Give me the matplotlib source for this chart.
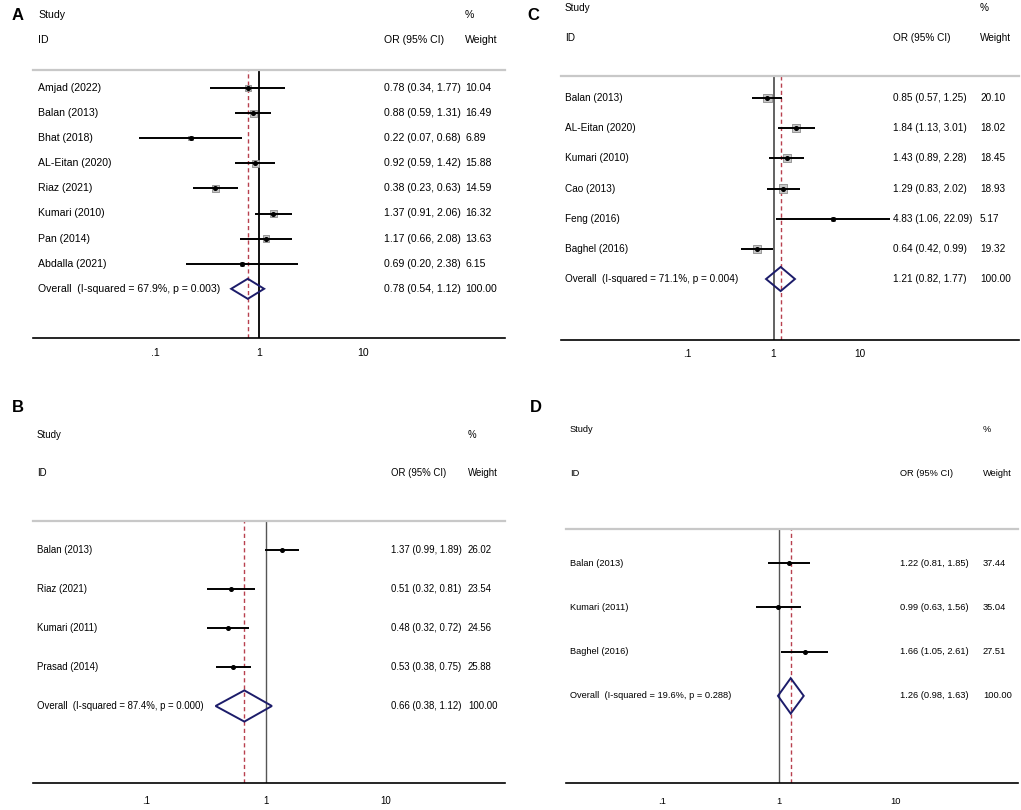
import numpy as np
import matplotlib
matplotlib.use("Agg")
import matplotlib.pyplot as plt
from matplotlib.patches import Polygon

plt.rcParams['font.family'] = ['Liberation Sans', 'DejaVu Sans']

# ---------------- data ----------------
A_studies = ["Amjad (2022)", "Balan (2013)", "Bhat (2018)", "AL-Eitan (2020)", "Riaz (2021)",
             "Kumari (2010)", "Pan (2014)", "Abdalla (2021)"]
A_or = [0.78, 0.88, 0.22, 0.92, 0.38, 1.37, 1.17, 0.69]
A_lo = [0.34, 0.59, 0.07, 0.59, 0.23, 0.91, 0.66, 0.20]
A_hi = [1.77, 1.31, 0.68, 1.42, 0.63, 2.06, 2.08, 2.38]
A_w = [10.04, 16.49, 6.89, 15.88, 14.59, 16.32, 13.63, 6.15]
A_overall = [0.78, 0.54, 1.12]
A_i2, A_p = 67.9, 0.003

B_studies = ["Balan (2013)", "Riaz (2021)", "Kumari (2011)", "Prasad (2014)"]
B_or = [1.37, 0.51, 0.48, 0.53]
B_lo = [0.99, 0.32, 0.32, 0.38]
B_hi = [1.89, 0.81, 0.72, 0.75]
B_w = [26.02, 23.54, 24.56, 25.88]
B_overall = [0.66, 0.38, 1.12]
B_i2, B_p = 87.4, 0.000

C_studies = ["Balan (2013)", "AL-Eitan (2020)", "Kumari (2010)", "Cao (2013)", "Feng (2016)", "Baghel (2016)"]
C_or = [0.85, 1.84, 1.43, 1.29, 4.83, 0.64]
C_lo = [0.57, 1.13, 0.89, 0.83, 1.06, 0.42]
C_hi = [1.25, 3.01, 2.28, 2.02, 22.09, 0.99]
C_w = [20.10, 18.02, 18.45, 18.93, 5.17, 19.32]
C_overall = [1.21, 0.82, 1.77]
C_i2, C_p = 71.1, 0.004

D_studies = ["Balan (2013)", "Kumari (2011)", "Baghel (2016)"]
D_or = [1.22, 0.99, 1.66]
D_lo = [0.81, 0.63, 1.05]
D_hi = [1.85, 1.56, 2.61]
D_w = [37.44, 35.04, 27.51]
D_overall = [1.26, 0.98, 1.63]
D_i2, D_p = 19.6, 0.288

tick_vals = [0.1, 1, 10]
tick_labels = [".1", "1", "10"]

# ---------------- layout (pixels) ----------------
W, H = 1021, 810
fig = plt.figure(figsize=(W / 100, H / 100), dpi=100)
fig.patch.set_facecolor("white")

FS = dict(A=7.6, B=6.9, C=7.2, D=6.7)

panels = [
    dict(letter="A", studies=A_studies, orv=A_or, lo=A_lo, hi=A_hi, w=A_w, ov=A_overall, i2=A_i2, p=A_p,
         letter_xy=(12, 16), col_x=(38, 384, 465), study_y=15, id_y=40,
         x0=33, x1=505, line_y=70, axis_y=338, first=88, spacing=25.1, px1=259, dec=104,
         sq=1.75, refcol="black", reflw=1.3, pad=7.0),
    dict(letter="B", studies=B_studies, orv=B_or, lo=B_lo, hi=B_hi, w=B_w, ov=B_overall, i2=B_i2, p=B_p,
         letter_xy=(12, 407), col_x=(37, 391, 468), study_y=435, id_y=473,
         x0=33, x1=505, line_y=521, axis_y=783, first=550, spacing=39.0, px1=266, dec=120,
         sq=0.0, refcol="#555555", reflw=1.0, pad=9.5),
    dict(letter="C", studies=C_studies, orv=C_or, lo=C_lo, hi=C_hi, w=C_w, ov=C_overall, i2=C_i2, p=C_p,
         letter_xy=(527, 16), col_x=(565, 893, 980), study_y=8, id_y=38,
         x0=561, x1=1019, line_y=76, axis_y=340, first=98, spacing=30.17, px1=773.5, dec=86.5,
         sq=1.9, refcol="#555555", reflw=1.3, pad=6.5),
    dict(letter="D", studies=D_studies, orv=D_or, lo=D_lo, hi=D_hi, w=D_w, ov=D_overall, i2=D_i2, p=D_p,
         letter_xy=(530, 407), col_x=(570, 900, 983), study_y=430, id_y=474,
         x0=566, x1=1018, line_y=529, axis_y=783, first=563, spacing=44.3, px1=779, dec=116.5,
         sq=0.0, refcol="#555555", reflw=1.0, pad=10.0),
]


def ftxt(px, py, s, **kw):
    fig.text(px / W, 1 - py / H, s, va="center", ha="left", **kw)


for P in panels:
    fs = FS[P["letter"]]
    cx0, cx1, cx2 = P["col_x"]
    # headers
    ftxt(P["letter_xy"][0], P["letter_xy"][1], P["letter"], fontsize=12, fontweight="bold")
    ftxt(cx0, P["study_y"], "Study", fontsize=fs)
    ftxt(cx2, P["study_y"], "%", fontsize=fs)
    ftxt(cx0, P["id_y"], "ID", fontsize=fs)
    ftxt(cx1, P["id_y"], "OR (95% CI)", fontsize=fs)
    ftxt(cx2, P["id_y"], "Weight", fontsize=fs)

    # axes
    x0, x1 = P["x0"], P["x1"]
    ly, ay = P["line_y"], P["axis_y"]
    ax = fig.add_axes([x0 / W, 1 - ay / H, (x1 - x0) / W, (ay - ly) / H])
    ax.set_xscale("log")
    ax.set_xlim(10 ** ((x0 - P["px1"]) / P["dec"]), 10 ** ((x1 - P["px1"]) / P["dec"]))
    sp = P["spacing"]
    ax.set_ylim((ay - P["first"]) / sp, -(P["first"] - ly) / sp)
    ax.patch.set_alpha(0)
    for s in ("left", "right"):
        ax.spines[s].set_visible(False)
    ax.spines["top"].set_color("#c8c8c8")
    ax.spines["top"].set_linewidth(1.6)
    ax.spines["bottom"].set_color("black")
    ax.spines["bottom"].set_linewidth(1.2)
    ax.set_yticks([])
    ax.set_xticks(tick_vals)
    ax.set_xticklabels(tick_labels, fontsize=fs)
    ax.xaxis.set_minor_locator(matplotlib.ticker.NullLocator())
    ax.tick_params(axis="x", length=0, pad=P["pad"])

    # reference lines
    ax.axvline(1, color=P["refcol"], lw=P["reflw"], zorder=1)
    est, olo, ohi = P["ov"]
    ax.axvline(est, color="#b8404e", lw=1.0, ls=(0, (3, 2.2)), zorder=1)

    n = len(P["studies"])
    ys = np.arange(n)
    # squares (weights)
    if P["sq"] > 0:
        side_pt = P["sq"] * np.sqrt(np.array(P["w"])) * 0.72
        ax.scatter(P["orv"], ys, s=side_pt ** 2, marker="s", facecolor="#c8c8c8",
                   edgecolor="#8c8c8c", linewidth=0.6, zorder=2)
    ax.hlines(ys, P["lo"], P["hi"], color="black", lw=1.4, zorder=3)
    ax.plot(P["orv"], ys, "o", color="black", ms=2.6, zorder=4)

    # overall diamond
    yo = n
    h = 0.4
    dia = Polygon([[olo, yo], [est, yo - h], [ohi, yo], [est, yo + h]], closed=True,
                  fill=False, edgecolor="#1c1c6a", lw=1.4, zorder=5)
    ax.add_patch(dia)

    # row texts
    for i, name in enumerate(P["studies"]):
        py = P["first"] + i * sp
        ftxt(cx0, py, name, fontsize=fs)
        ftxt(cx1, py, f"{P['orv'][i]:.2f} ({P['lo'][i]:.2f}, {P['hi'][i]:.2f})", fontsize=fs)
        ftxt(cx2, py, f"{P['w'][i]:.2f}", fontsize=fs)
    py = P["first"] + n * sp
    ftxt(cx0, py, f"Overall  (I-squared = {P['i2']:.1f}%, p = {P['p']:.3f})", fontsize=fs)
    ftxt(cx1, py, f"{est:.2f} ({olo:.2f}, {ohi:.2f})", fontsize=fs)
    ftxt(cx2, py, "100.00", fontsize=fs)

fig.savefig("out.png", dpi=100, facecolor="white")
